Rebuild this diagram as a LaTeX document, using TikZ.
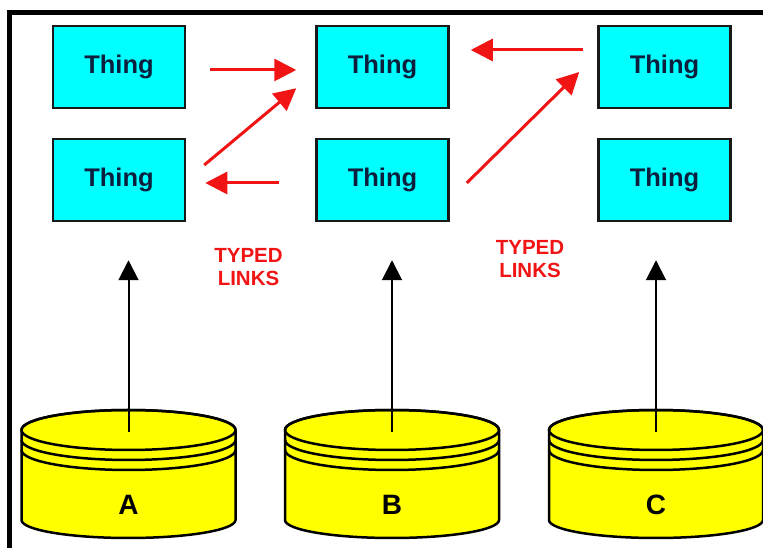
\documentclass[tikz,border=0pt]{standalone}
\usepackage{fontspec}
\setsansfont{Liberation Sans}
\usepackage{tikz}
\usetikzlibrary{arrows.meta}
\definecolor{thingcyan}{RGB}{0,255,255}
\definecolor{thingtext}{RGB}{12,32,62}
\definecolor{dbyellow}{RGB}{255,255,0}
\definecolor{linkred}{RGB}{240,20,20}

\begin{document}
\begin{tikzpicture}[x=1bp,y=1bp,
	thing/.style={draw=black!90,line width=2.5bp,fill=thingcyan,minimum width=132bp,minimum height=82bp,inner sep=0pt,text=thingtext,font=\sffamily\bfseries\fontsize{25.5bp}{28bp}\selectfont},
	link/.style={-{Triangle[length=22bp,width=22bp]},line width=3bp,linkred},
	feed/.style={-{Triangle[length=20bp,width=20bp]},line width=2bp,black},
	typed/.style={align=center,text=linkred,font=\sffamily\bfseries\fontsize{20.5bp}{23bp}\selectfont},
	dbletter/.style={font=\sffamily\bfseries\fontsize{28bp}{30bp}\selectfont}]

	\useasboundingbox (0,0) rectangle (763,548);
	\draw[line width=4.5bp] (9.5,0) -- (9.5,535.5) -- (763,535.5);

	% things
	\node[thing] (thA1) at (119,481) {Thing};
	\node[thing] (thA2) at (119,368) {Thing};
	\node[thing] (thB1) at (382.5,481) {Thing};
	\node[thing] (thB2) at (382.5,368) {Thing};
	\node[thing] (thC1) at (664.5,481) {Thing};
	\node[thing] (thC2) at (664.5,368) {Thing};

	% stores
	\foreach \cx/\lbl in {128.5/A,392/B,656/C}{
		\filldraw[fill=dbyellow,line width=2.5bp] (\cx-107,118) -- (\cx-107,28)
			arc[start angle=180,end angle=360,x radius=107,y radius=18] -- (\cx+107,118)
			arc[start angle=0,end angle=180,x radius=107,y radius=20] -- cycle;
		\draw[line width=2.5bp] (\cx,118) ellipse [x radius=107,y radius=20];
		\draw[line width=2.5bp] (\cx-107,108) arc[start angle=180,end angle=360,x radius=107,y radius=20];
		\draw[line width=2.5bp] (\cx-107,98) arc[start angle=180,end angle=360,x radius=107,y radius=20];
		\node[dbletter] (db\lbl) at (\cx,43) {\lbl};
		\coordinate (top\lbl) at (\cx,116);
	}

	\draw[feed,shorten >=38bp] (topA) -- (topA |- thA2.south);
	\draw[feed,shorten >=38bp] (topB) -- (topB |- thB2.south);
	\draw[feed,shorten >=38bp] (topC) -- (topC |- thC2.south);

	% typed links
	\draw[link,shorten <=24bp,shorten >=19bp] ([yshift=-3bp]thA1.east) -- ([yshift=-3bp]thB1.west);
	\draw[link] ([shift={(18,15)}]thA2.east) -- ([shift={(-19,21)}]thB1.south west);
	\draw[link,shorten <=36bp,shorten >=19bp] ([yshift=-3bp]thB2.west) -- ([yshift=-3bp]thA2.east);
	\draw[link,shorten <=14bp,shorten >=21bp] ([yshift=17bp]thC1.west) -- ([yshift=17bp]thB1.east);
	\draw[link] ([shift={(17,-3)}]thB2.east) -- ([shift={(-18,-5)}]thC1.west);

	\node[typed] (linksAB) at (248.5,281) {TYPED\\LINKS};
	\node[typed] (linksBC) at (530,289) {TYPED\\LINKS};
\end{tikzpicture}
\end{document}
